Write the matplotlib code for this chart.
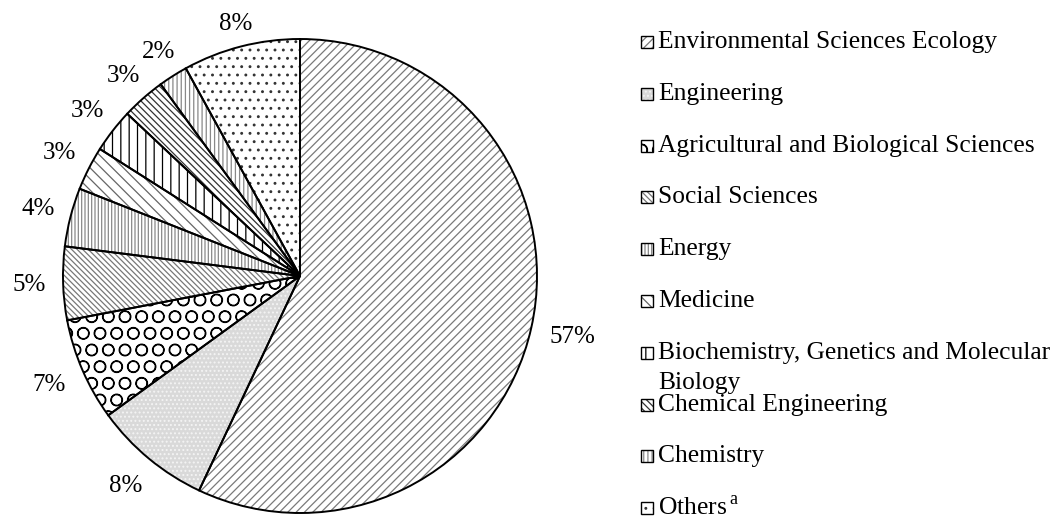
import numpy as np
import matplotlib.pyplot as plt
from matplotlib.patches import Rectangle

plt.rcParams['font.family'] = ['Liberation Serif', 'DejaVu Serif']
plt.rcParams['hatch.linewidth'] = 0.9

categories = ['Environmental Sciences Ecology', 'Engineering',
              'Agricultural and Biological Sciences', 'Social Sciences',
              'Energy', 'Medicine',
              'Biochemistry, Genetics and Molecular\nBiology',
              'Chemical Engineering', 'Chemistry', 'Others$^{\\,\\mathregular{a}}$']
shares = [57, 8, 7, 5, 4, 3, 3, 3, 2, 8]

faces = ['white', '#d9d9d9', 'white', 'white', 'white',
         'white', 'white', 'white', 'white', 'white']
hatches = ['////', '....', 'O', '\\\\\\\\\\\\', '|||||',
           '\\\\\\', '||', '\\\\\\\\\\', '||||', '..']
hcolors = ['#7a7a7a', '#f4f4f4', 'black', '#777777', '#888888',
           '#666666', 'black', '#333333', '#888888', '#333333']

R_PX = 237
fig = plt.figure(figsize=(10.61, 5.22), dpi=100)
ax = fig.add_axes([63 / 1061, 9 / 522, 474 / 1061, 474 / 522])

wedges, _, autotexts = ax.pie(shares, startangle=90, counterclock=False,
                              autopct=lambda p: '%d%%' % round(p),
                              pctdistance=1.16, radius=1,
                              wedgeprops=dict(linewidth=0))
for w, fc, h, hc in zip(wedges, faces, hatches, hcolors):
    w.set_facecolor(fc)
    w.set_hatch(h)
    w.set_edgecolor(hc)
for t in autotexts:
    t.set_fontsize(18)

# outlines on top
ax.pie(shares, startangle=90, counterclock=False, radius=1,
       wedgeprops=dict(fill=False, edgecolor='black', linewidth=1.4))
ax.set_xlim(-1, 1)
ax.set_ylim(-1, 1)

# push each label out so its box sits just outside the circle
renderer = fig.canvas.get_renderer()
gap = 17
for w, t in zip(wedges, autotexts):
    ang = np.deg2rad((w.theta1 + w.theta2) / 2)
    bb = t.get_window_extent(renderer)
    s = np.sin(ang)
    hfac = 0.1 if s > 0 else 0.5
    d = R_PX + gap + abs(np.cos(ang)) * bb.width / 2 + abs(s) * bb.height * hfac
    t.set_position((d / R_PX * np.cos(ang), d / R_PX * s))

# legend drawn by hand so the two-line entry overlaps like the original
y_top = 42
step = 51.8
sq = 12
for i, (lab, fc, h, hc) in enumerate(zip(categories, faces, hatches, hcolors)):
    yc = y_top + i * step
    fy = 1 - yc / 522
    box = (641 / 1061, fy - sq / 2 / 522)
    fig.add_artist(Rectangle(box, sq / 1061, sq / 522,
                             transform=fig.transFigure, facecolor=fc, hatch=h,
                             edgecolor=hc, linewidth=0))
    fig.add_artist(Rectangle(box, sq / 1061, sq / 522,
                             transform=fig.transFigure, fill=False,
                             edgecolor='black', linewidth=1))
    lines = lab.split('\n')
    fig.text(658 / 1061, fy, lines[0], fontsize=18.4, va='center', ha='left')
    if len(lines) > 1:
        fig.text(658 / 1061, 1 - (yc + 30) / 522, lines[1], fontsize=18.4,
                 va='center', ha='left')

fig.savefig('out.png', dpi=100)
